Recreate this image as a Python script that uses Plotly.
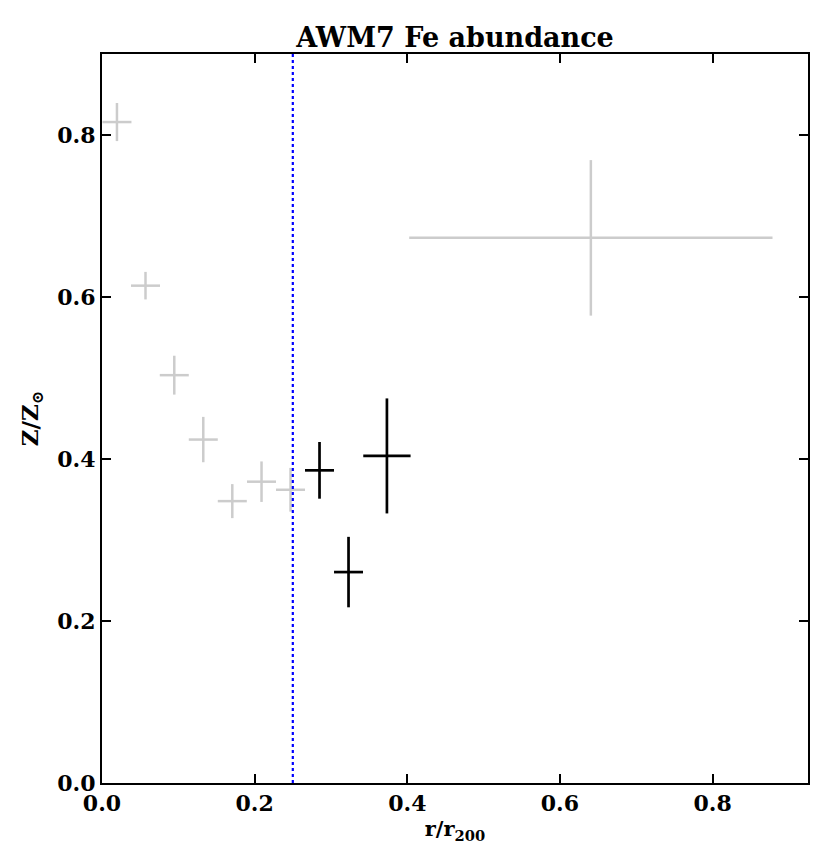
import plotly.graph_objects as go

# Gray (inner) data
gray_r = [0.0196, 0.057, 0.0947, 0.1327, 0.1707, 0.209, 0.247, 0.6405]
gray_z = [0.816, 0.614, 0.5035, 0.424, 0.348, 0.372, 0.362, 0.673]
gray_rerr = [0.019, 0.019, 0.019, 0.019, 0.019, 0.019, 0.019, 0.238]
gray_zerr = [0.0235, 0.017, 0.024, 0.028, 0.021, 0.025, 0.027, 0.096]

# Black (outer) data
black_r = [0.285, 0.323, 0.3733]
black_z = [0.386, 0.2604, 0.4038]
black_rerr = [0.019, 0.019, 0.031]
black_zerr = [0.035, 0.0435, 0.071]

r_line = 0.25
x_ticks = [0.0, 0.2, 0.4, 0.6, 0.8]
y_ticks = [0.0, 0.2, 0.4, 0.6, 0.8]

FONT = "DejaVu Serif"

fig = go.Figure()
fig.add_trace(go.Scatter(
    x=gray_r, y=gray_z, mode="markers",
    marker=dict(size=0.1, color="#cccccc", opacity=0),
    error_x=dict(type="data", array=gray_rerr, color="#cccccc", thickness=2.5, width=0),
    error_y=dict(type="data", array=gray_zerr, color="#cccccc", thickness=2.5, width=0),
    showlegend=False, hoverinfo="skip"))
fig.add_trace(go.Scatter(
    x=black_r, y=black_z, mode="markers",
    marker=dict(size=0.1, color="black", opacity=0),
    error_x=dict(type="data", array=black_rerr, color="black", thickness=2.7, width=0),
    error_y=dict(type="data", array=black_zerr, color="black", thickness=2.7, width=0),
    showlegend=False, hoverinfo="skip"))
fig.add_shape(type="line", x0=r_line, x1=r_line, y0=0, y1=1, xref="x", yref="paper",
              line=dict(color="blue", width=2.2, dash="dot"))

axis_common = dict(
    showgrid=False, zeroline=False, showline=True, linecolor="black", linewidth=2,
    mirror="ticks", ticks="inside", ticklen=9, tickwidth=1.5, tickcolor="black",
    tickfont=dict(family=FONT, size=22, color="black", weight="bold"),
    tickformat=".1f", automargin=False,
)
fig.update_xaxes(range=[0, 0.925], tickvals=x_ticks, **axis_common,
                 title=dict(text="r/r<sub>200</sub>", font=dict(family=FONT, size=21, color="black", weight="bold"), standoff=2))
fig.update_yaxes(range=[0, 0.9], tickvals=y_ticks, **axis_common,
                 title=dict(text="Z/Z<sub>⊙</sub>", font=dict(family=FONT, size=23, color="black", weight="bold"), standoff=12))

fig.update_layout(
    width=823, height=855,
    margin=dict(l=94, r=23, t=46, b=80),
    plot_bgcolor="white", paper_bgcolor="white",
    title=dict(text="AWM7 Fe abundance", x=0.5, xref="paper", xanchor="center",
               y=1, yref="paper", yanchor="bottom", pad=dict(b=7),
               font=dict(family=FONT, size=27, color="black", weight="bold")),
)
fig.write_html("out.html")
